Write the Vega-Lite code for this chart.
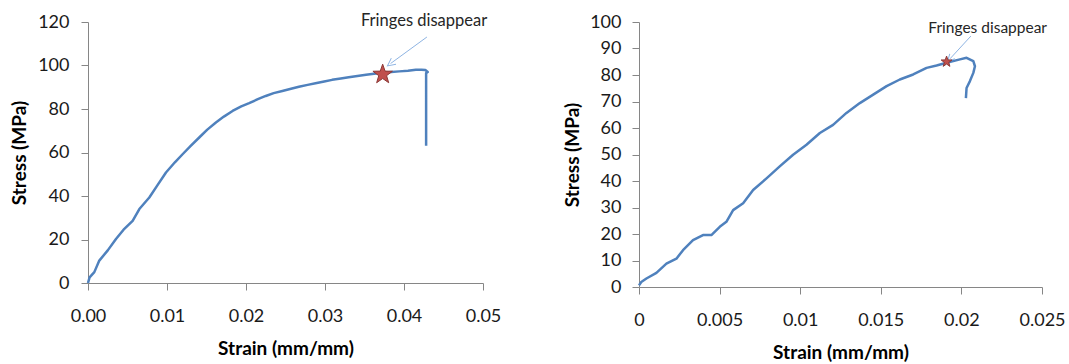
{
  "$schema": "https://vega.github.io/schema/vega-lite/v6.json",
  "background": "white",
  "padding": {"left": 10, "top": 12, "right": 2, "bottom": 2},
  "spacing": 62,
  "config": {
    "view": {"stroke": null},
    "font": "Lato",
    "axis": {
      "grid": false,
      "domainColor": "#868686",
      "tickColor": "#868686",
      "tickSize": 7,
      "labelFontSize": 18,
      "labelColor": "#1a1a1a",
      "labelFont": "Lato",
      "labelOverlap": false,
      "titleFont": "Lato",
      "titleFontSize": 19,
      "titleFontWeight": "bold",
      "titleColor": "#000000"
    },
    "axisX": {"labelPadding": 17, "titlePadding": 14, "labelFlush": false},
    "axisY": {"labelPadding": 12, "titlePadding": 8}
  },
  "datasets": {
    "curveA": [
      {"strain": 0, "stress": 0, "i": 0},
      {"strain": 0.0002, "stress": 2.6, "i": 1},
      {"strain": 0.0008, "stress": 5, "i": 2},
      {"strain": 0.00143, "stress": 10.3, "i": 3},
      {"strain": 0.0025, "stress": 15, "i": 4},
      {"strain": 0.00354, "stress": 20.2, "i": 5},
      {"strain": 0.0045, "stress": 24.5, "i": 6},
      {"strain": 0.00565, "stress": 28.6, "i": 7},
      {"strain": 0.0065, "stress": 34, "i": 8},
      {"strain": 0.00776, "stress": 39.3, "i": 9},
      {"strain": 0.0088, "stress": 45, "i": 10},
      {"strain": 0.00987, "stress": 50.8, "i": 11},
      {"strain": 0.011, "stress": 55.5, "i": 12},
      {"strain": 0.01197, "stress": 59.2, "i": 13},
      {"strain": 0.013, "stress": 63, "i": 14},
      {"strain": 0.01408, "stress": 66.9, "i": 15},
      {"strain": 0.0151, "stress": 70.5, "i": 16},
      {"strain": 0.01619, "stress": 73.8, "i": 17},
      {"strain": 0.0172, "stress": 76.5, "i": 18},
      {"strain": 0.0183, "stress": 79.1, "i": 19},
      {"strain": 0.0194, "stress": 81.2, "i": 20},
      {"strain": 0.0204, "stress": 82.7, "i": 21},
      {"strain": 0.0215, "stress": 84.5, "i": 22},
      {"strain": 0.0225, "stress": 86, "i": 23},
      {"strain": 0.0235, "stress": 87.3, "i": 24},
      {"strain": 0.0246, "stress": 88.3, "i": 25},
      {"strain": 0.0257, "stress": 89.3, "i": 26},
      {"strain": 0.0267, "stress": 90.2, "i": 27},
      {"strain": 0.0278, "stress": 91.1, "i": 28},
      {"strain": 0.0288, "stress": 91.8, "i": 29},
      {"strain": 0.0299, "stress": 92.6, "i": 30},
      {"strain": 0.0309, "stress": 93.4, "i": 31},
      {"strain": 0.032, "stress": 94, "i": 32},
      {"strain": 0.033, "stress": 94.6, "i": 33},
      {"strain": 0.0341, "stress": 95.2, "i": 34},
      {"strain": 0.0352, "stress": 95.7, "i": 35},
      {"strain": 0.0362, "stress": 96.2, "i": 36},
      {"strain": 0.0373, "stress": 96.7, "i": 37},
      {"strain": 0.0384, "stress": 97, "i": 38},
      {"strain": 0.0394, "stress": 97.3, "i": 39},
      {"strain": 0.0405, "stress": 97.6, "i": 40},
      {"strain": 0.0415, "stress": 98, "i": 41},
      {"strain": 0.0422, "stress": 98.1, "i": 42},
      {"strain": 0.0427, "stress": 97.9, "i": 43},
      {"strain": 0.043, "stress": 97, "i": 44},
      {"strain": 0.0428, "stress": 96.5, "i": 45},
      {"strain": 0.0428, "stress": 63.1, "i": 46}
    ],
    "curveB": [
      {"strain": 0, "stress": 0.6, "i": 0},
      {"strain": 0.00014, "stress": 1.9, "i": 1},
      {"strain": 0.00046, "stress": 3.2, "i": 2},
      {"strain": 0.00108, "stress": 5.3, "i": 3},
      {"strain": 0.0017, "stress": 8.8, "i": 4},
      {"strain": 0.00232, "stress": 10.7, "i": 5},
      {"strain": 0.00273, "stress": 13.9, "i": 6},
      {"strain": 0.00335, "stress": 17.7, "i": 7},
      {"strain": 0.00397, "stress": 19.6, "i": 8},
      {"strain": 0.00449, "stress": 19.6, "i": 9},
      {"strain": 0.00501, "stress": 22.7, "i": 10},
      {"strain": 0.00542, "stress": 24.6, "i": 11},
      {"strain": 0.00584, "stress": 29, "i": 12},
      {"strain": 0.00646, "stress": 31.6, "i": 13},
      {"strain": 0.00708, "stress": 36.6, "i": 14},
      {"strain": 0.00791, "stress": 41, "i": 15},
      {"strain": 0.00873, "stress": 45.5, "i": 16},
      {"strain": 0.00956, "stress": 49.9, "i": 17},
      {"strain": 0.01039, "stress": 53.7, "i": 18},
      {"strain": 0.01122, "stress": 58.1, "i": 19},
      {"strain": 0.01204, "stress": 61.2, "i": 20},
      {"strain": 0.01287, "stress": 65.7, "i": 21},
      {"strain": 0.0137, "stress": 69.4, "i": 22},
      {"strain": 0.01453, "stress": 72.6, "i": 23},
      {"strain": 0.01536, "stress": 75.8, "i": 24},
      {"strain": 0.01618, "stress": 78.3, "i": 25},
      {"strain": 0.01701, "stress": 80.2, "i": 26},
      {"strain": 0.01784, "stress": 82.7, "i": 27},
      {"strain": 0.01846, "stress": 83.6, "i": 28},
      {"strain": 0.01908, "stress": 84.6, "i": 29},
      {"strain": 0.01991, "stress": 85.9, "i": 30},
      {"strain": 0.02032, "stress": 86.5, "i": 31},
      {"strain": 0.02074, "stress": 85.2, "i": 32},
      {"strain": 0.02084, "stress": 83.3, "i": 33},
      {"strain": 0.02074, "stress": 80.8, "i": 34},
      {"strain": 0.02053, "stress": 77.7, "i": 35},
      {"strain": 0.02032, "stress": 75.1, "i": 36},
      {"strain": 0.02028, "stress": 71.3, "i": 37}
    ]
  },
  "hconcat": [
    {
      "width": 395,
      "height": 261,
      "encoding": {
        "x": {"field": "strain", "type": "quantitative", "scale": {"domain": [0, 0.05], "nice": false}, "axis": {"title": "Strain (mm/mm)", "values": [0, 0.01, 0.02, 0.03, 0.04, 0.05], "format": ".2f"}},
        "y": {"field": "stress", "type": "quantitative", "scale": {"domain": [0, 120], "nice": false}, "axis": {"title": "Stress (MPa)", "values": [0, 20, 40, 60, 80, 100, 120]}}
      },
      "layer": [
        {
          "data": {"name": "curveA"},
          "mark": {"type": "line", "color": "#4F81BD", "strokeWidth": 2.5, "strokeJoin": "round"},
          "encoding": {"order": {"field": "i"}}
        },
        {
          "data": {"values": [{"strain": 0.0429, "stress": 113.1, "strain2": 0.0383, "stress2": 100.9}]},
          "mark": {"type": "rule", "color": "#8EB4E3", "strokeWidth": 1},
          "encoding": {"x2": {"field": "strain2"}, "y2": {"field": "stress2"}}
        },
        {
          "data": {"values": [{"strain": 0.0383, "stress": 100.9}]},
          "mark": {"type": "point", "shape": "M-1,1L0,-1L1,1", "filled": false, "color": "#8EB4E3", "strokeWidth": 1, "size": 60, "angle": 233, "opacity": 1}
        },
        {
          "data": {"values": [{"strain": 0.0373, "stress": 95.9}]},
          "mark": {"type": "point", "shape": "M0,-1L0.235,-0.324L0.951,-0.309L0.38,0.124L0.588,0.809L0,0.4L-0.588,0.809L-0.38,0.124L-0.951,-0.309L-0.235,-0.324Z", "filled": true, "fill": "#C0504D", "stroke": "#8C3836", "strokeWidth": 1, "size": 420, "opacity": 1}
        },
        {
          "data": {"values": [{"strain": 0.04254, "stress": 120.5, "label": "Fringes disappear"}]},
          "mark": {"type": "text", "fontSize": 16.5, "color": "#262626", "align": "center", "baseline": "middle", "font": "Lato"},
          "encoding": {"text": {"field": "label"}}
        }
      ]
    },
    {
      "width": 403,
      "height": 265,
      "encoding": {
        "x": {"field": "strain", "type": "quantitative", "scale": {"domain": [0, 0.025], "nice": false}, "axis": {"title": "Strain (mm/mm)", "values": [0, 0.005, 0.01, 0.015, 0.02, 0.025], "format": "~g"}},
        "y": {"field": "stress", "type": "quantitative", "scale": {"domain": [0, 100], "nice": false}, "axis": {"title": "Stress (MPa)", "values": [0, 10, 20, 30, 40, 50, 60, 70, 80, 90, 100], "labelPadding": 11, "titlePadding": 7}}
      },
      "layer": [
        {
          "data": {"name": "curveB"},
          "mark": {"type": "line", "color": "#4F81BD", "strokeWidth": 2.5, "strokeJoin": "round"},
          "encoding": {"order": {"field": "i"}}
        },
        {
          "data": {"values": [{"strain": 0.02059, "stress": 94.7, "strain2": 0.01929, "stress2": 86.1}]},
          "mark": {"type": "rule", "color": "#8EB4E3", "strokeWidth": 1},
          "encoding": {"x2": {"field": "strain2"}, "y2": {"field": "stress2"}}
        },
        {
          "data": {"values": [{"strain": 0.01929, "stress": 86.1}]},
          "mark": {"type": "point", "shape": "M-1,1L0,-1L1,1", "filled": false, "color": "#8EB4E3", "strokeWidth": 1, "size": 50, "angle": 223, "opacity": 1}
        },
        {
          "data": {"values": [{"strain": 0.01908, "stress": 85}]},
          "mark": {"type": "point", "shape": "M0,-1L0.235,-0.324L0.951,-0.309L0.38,0.124L0.588,0.809L0,0.4L-0.588,0.809L-0.38,0.124L-0.951,-0.309L-0.235,-0.324Z", "filled": true, "fill": "#C0504D", "stroke": "#8C3836", "strokeWidth": 1, "size": 130, "opacity": 1}
        },
        {
          "data": {"values": [{"strain": 0.02163, "stress": 97.9, "label": "Fringes disappear"}]},
          "mark": {"type": "text", "fontSize": 15.5, "color": "#262626", "align": "center", "baseline": "middle", "font": "Lato"},
          "encoding": {"text": {"field": "label"}}
        }
      ]
    }
  ]
}
